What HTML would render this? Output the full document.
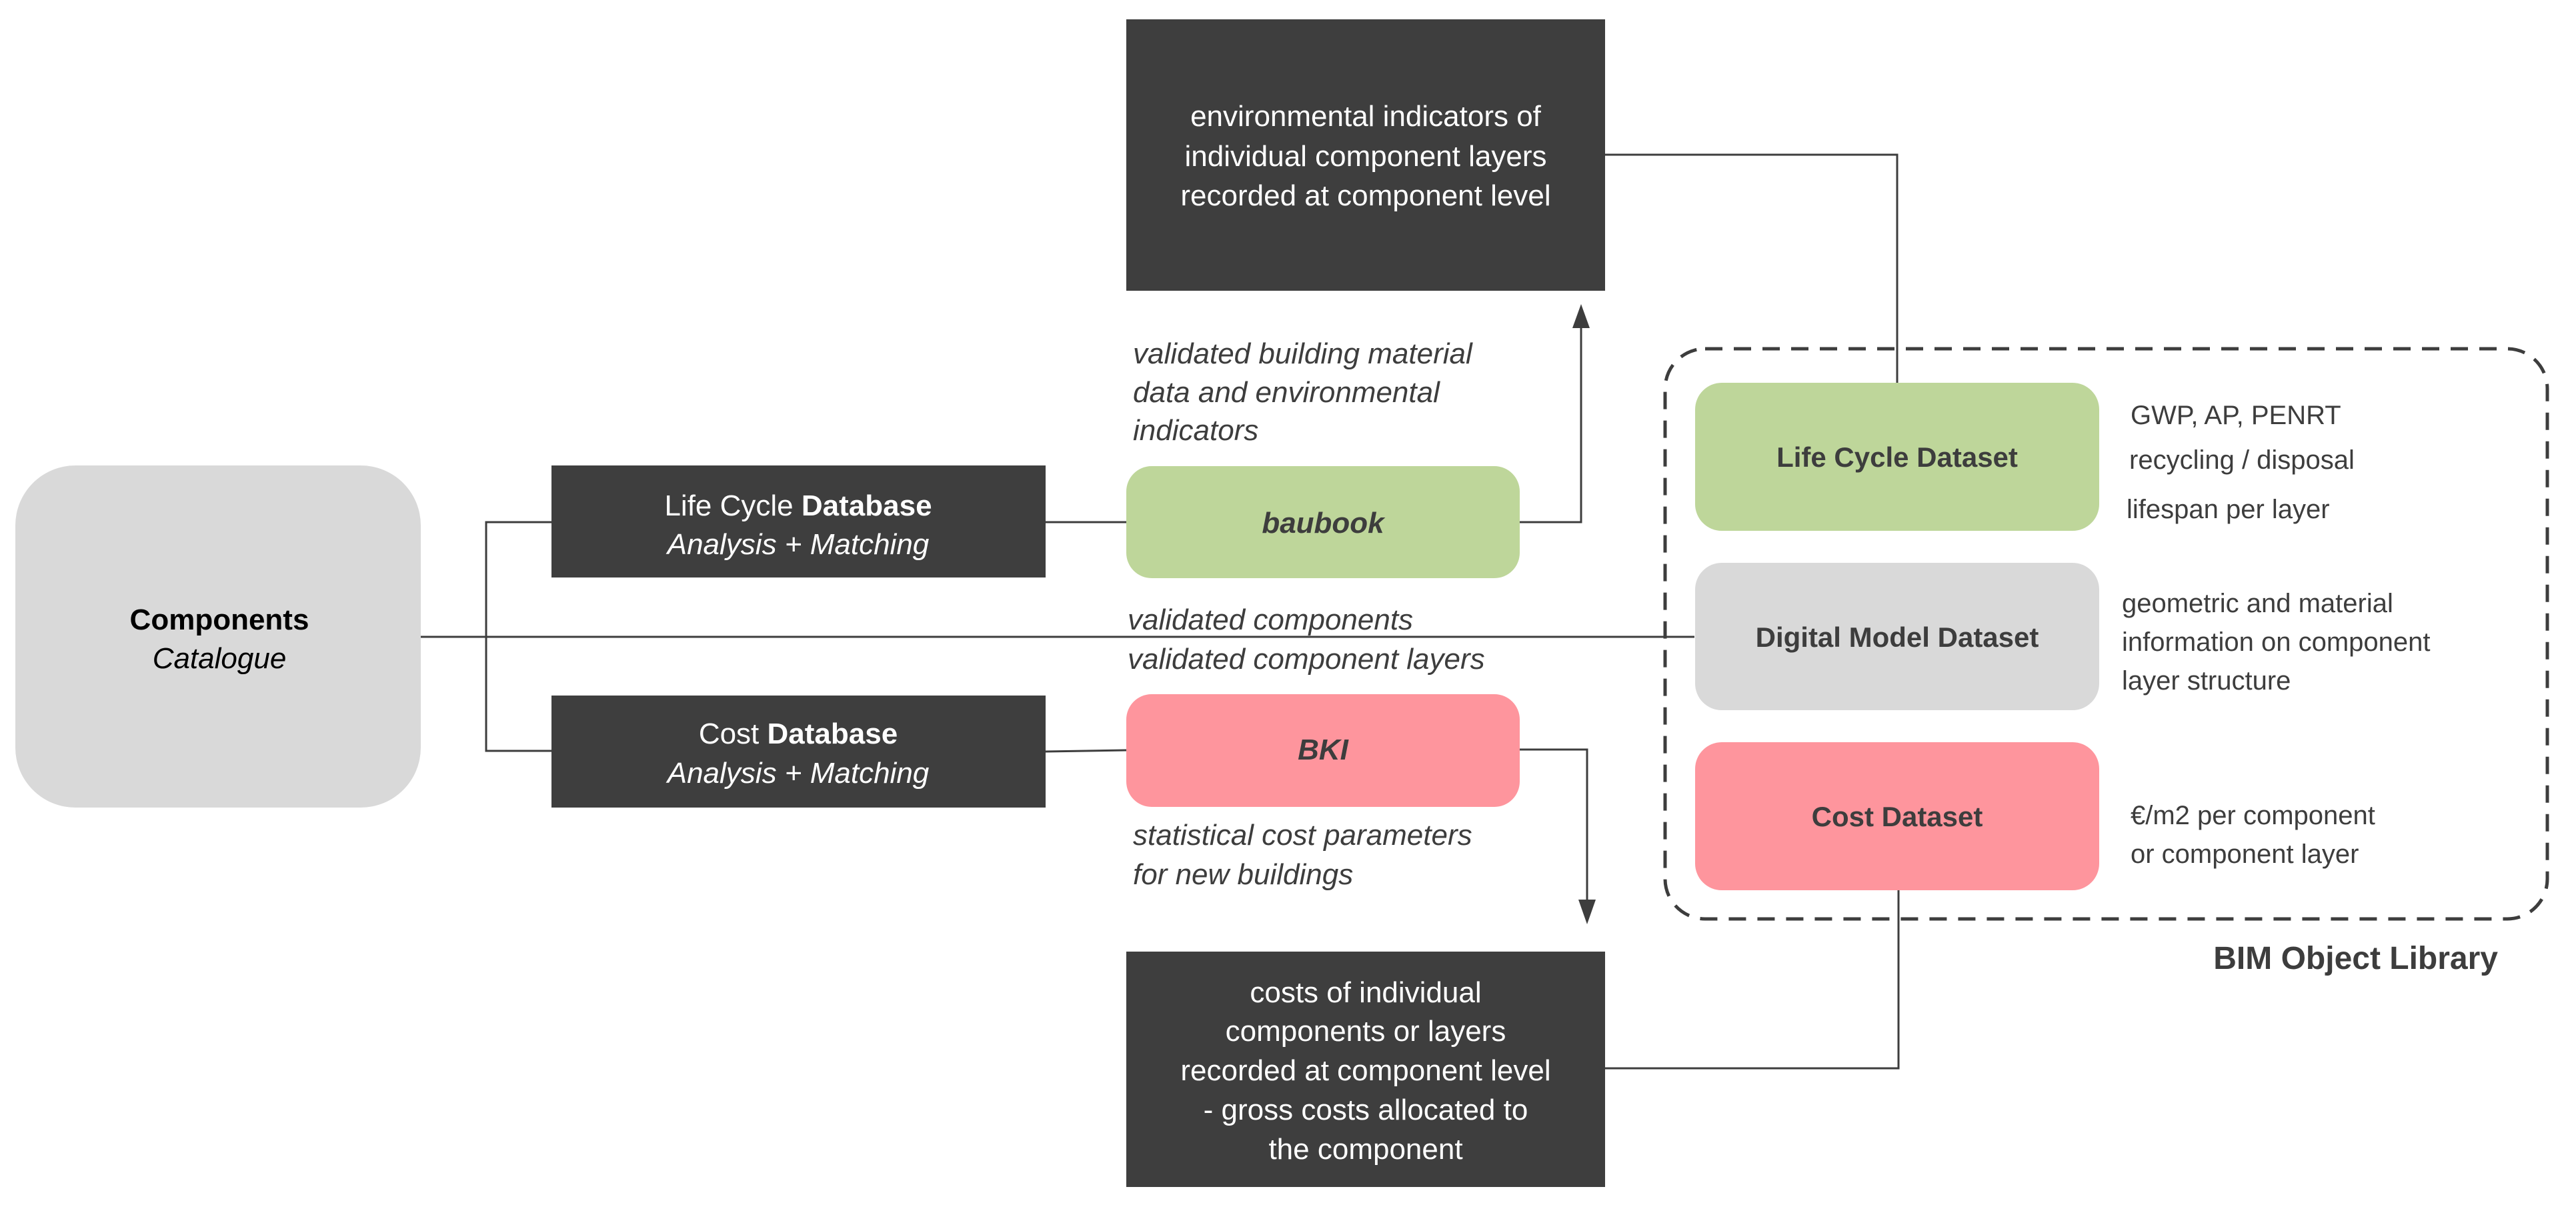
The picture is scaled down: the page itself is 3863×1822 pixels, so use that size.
<!DOCTYPE html>
<html><head><meta charset="utf-8"><style>
html,body{margin:0;padding:0;background:#fff;}
svg{display:block;}
text{font-family:"Liberation Sans",sans-serif;}
</style></head><body>
<svg width="3863" height="1822" viewBox="0 0 3863 1822" xmlns="http://www.w3.org/2000/svg">
<g fill="none" stroke="#3d3d3d" stroke-width="3">
  <!-- bracket -->
  <polyline points="827,783 729,783 729,1126 827,1126"/>
  <line x1="631" y1="955" x2="2541" y2="955"/>
  <line x1="1568" y1="783" x2="1689" y2="783"/>
  <line x1="1568" y1="1127" x2="1689" y2="1125"/>
  <!-- baubook up arrow -->
  <polyline points="2279,783 2371,783 2371,488"/>
  <!-- BKI down arrow -->
  <polyline points="2279,1124 2380,1124 2380,1352"/>
  <!-- top box to LC dataset -->
  <polyline points="2407,232 2845,232 2845,574"/>
  <!-- cost dataset to bottom box -->
  <polyline points="2847,1335 2847,1602 2407,1602"/>
</g>
<polygon points="2371,456 2358,492 2384,492" fill="#3d3d3d"/>
<polygon points="2380,1386 2367,1349 2393,1349" fill="#3d3d3d"/>
<!-- dashed library box -->
<rect x="2497" y="523" width="1323" height="855" rx="60" fill="none" stroke="#3d3d3d" stroke-width="5" stroke-dasharray="26,17"/>

<!-- nodes -->
<rect x="23" y="698" width="608" height="513" rx="90" fill="#d9d9d9"/>
<rect x="827" y="698" width="741" height="168" fill="#3e3e3e"/>
<rect x="827" y="1043" width="741" height="168" fill="#3e3e3e"/>
<rect x="1689" y="699" width="590" height="168" rx="38" fill="#bed69a"/>
<rect x="1689" y="1041" width="590" height="169" rx="38" fill="#fe959d"/>
<rect x="1689" y="29" width="718" height="407" fill="#3e3e3e"/>
<rect x="1689" y="1427" width="718" height="353" fill="#3e3e3e"/>
<rect x="2542" y="574" width="606" height="222" rx="40" fill="#bed69a"/>
<rect x="2542" y="844" width="606" height="221" rx="40" fill="#d9d9d9"/>
<rect x="2542" y="1113" width="606" height="222" rx="40" fill="#fe959d"/>

<!-- texts -->
<g font-size="44" text-anchor="middle">
  <text x="329" y="944" font-weight="bold" fill="#000">Components</text>
  <text x="329" y="1002" font-style="italic" fill="#000">Catalogue</text>
  <text x="1197" y="773" fill="#fff">Life Cycle <tspan font-weight="bold">Database</tspan></text>
  <text x="1197" y="831" font-style="italic" fill="#fff">Analysis + Matching</text>
  <text x="1197" y="1115" fill="#fff">Cost <tspan font-weight="bold">Database</tspan></text>
  <text x="1197" y="1174" font-style="italic" fill="#fff">Analysis + Matching</text>
  <text x="1984" y="799" font-style="italic" font-weight="bold" fill="#3d3d3d">baubook</text>
  <text x="1984" y="1139" font-style="italic" font-weight="bold" fill="#3d3d3d">BKI</text>
</g>
<g font-size="44" text-anchor="middle" fill="#fff">
  <text x="2048" y="189">environmental indicators of</text>
  <text x="2048" y="249">individual component layers</text>
  <text x="2048" y="308">recorded at component level</text>
  <text x="2048" y="1503">costs of individual</text>
  <text x="2048" y="1561">components or layers</text>
  <text x="2048" y="1620">recorded at component level</text>
  <text x="2048" y="1679">- gross costs allocated to</text>
  <text x="2048" y="1738">the component</text>
</g>
<g font-size="44" font-style="italic" fill="#3d3d3d">
  <text x="1699" y="545">validated building material</text>
  <text x="1699" y="603">data and environmental</text>
  <text x="1699" y="660">indicators</text>
  <text x="1691" y="944">validated components</text>
  <text x="1691" y="1003">validated component layers</text>
  <text x="1699" y="1267">statistical cost parameters</text>
  <text x="1699" y="1326">for new buildings</text>
</g>
<g font-size="42" font-weight="bold" text-anchor="middle" fill="#3d3d3d">
  <text x="2845" y="700">Life Cycle Dataset</text>
  <text x="2845" y="970">Digital Model Dataset</text>
  <text x="2845" y="1239">Cost Dataset</text>
</g>
<g font-size="40" fill="#3d3d3d">
  <text x="3195" y="636">GWP, AP, PENRT</text>
  <text x="3193" y="703">recycling / disposal</text>
  <text x="3189" y="777">lifespan per layer</text>
  <text x="3182" y="918">geometric and material</text>
  <text x="3182" y="976">information on component</text>
  <text x="3182" y="1034">layer structure</text>
  <text x="3195" y="1236">€/m2 per component</text>
  <text x="3195" y="1294">or component layer</text>
</g>
<text x="3746" y="1453" font-size="48" font-weight="bold" text-anchor="end" fill="#3d3d3d">BIM Object Library</text>
</svg>
</body></html>
